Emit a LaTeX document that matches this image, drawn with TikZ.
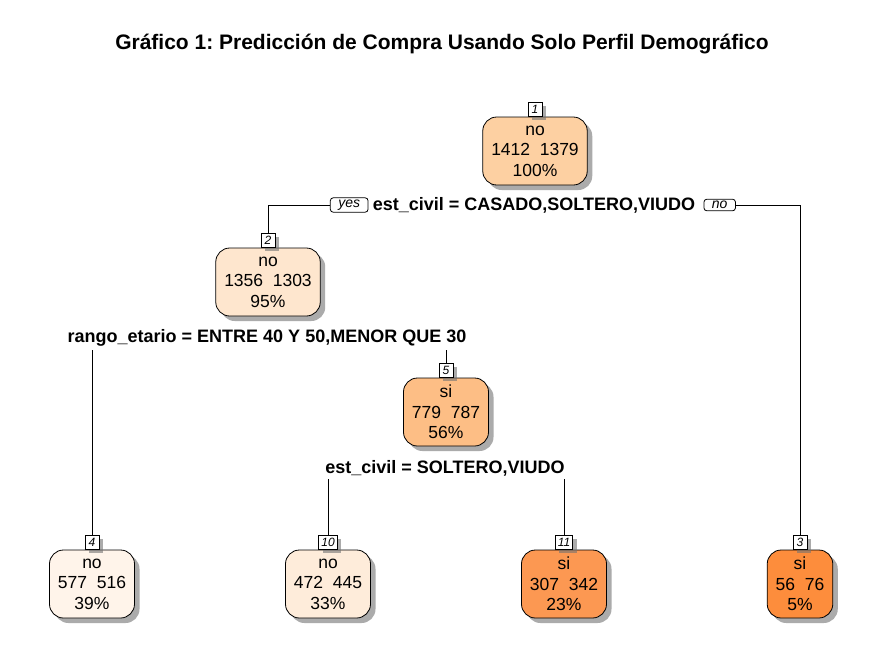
\documentclass[tikz,border=0pt]{standalone}
\usepackage{fontspec}
\setmainfont{Liberation Sans}
\usetikzlibrary{positioning, shadows}
\frenchspacing

\definecolor{fillroot}{RGB}{253,208,162}
\definecolor{filltwo}{RGB}{254,230,206}
\definecolor{fillfive}{RGB}{253,190,133}
\definecolor{fillfour}{RGB}{255,244,234}
\definecolor{fillten}{RGB}{254,236,218}
\definecolor{filleleven}{RGB}{252,152,82}
\definecolor{fillthree}{RGB}{253,141,60}

\begin{document}
\begin{tikzpicture}[x=1pt, y=-1pt, line width=0.8pt,
  treenode/.style={draw, rounded corners=14pt, minimum height=68pt, align=center,
    inner xsep=8.5pt, font=\fontsize{17.5}{20.5}\selectfont,
    drop shadow={shadow xshift=5pt, shadow yshift=-5pt, fill=black!55, opacity=0.6}},
  idbox/.style={draw, fill=white, anchor=south, inner xsep=2.5pt, inner ysep=1pt,
    minimum width=14pt, minimum height=14pt, font=\fontsize{12}{12}\selectfont\itshape,
    drop shadow={shadow xshift=4pt, shadow yshift=-4pt, fill=black!55, opacity=0.6}},
  splitlbl/.style={inner sep=3pt, font=\fontsize{18}{20}\selectfont\bfseries},
  edgelbl/.style={draw, fill=white, rounded corners=3pt, inner xsep=8pt, inner ysep=2pt,
    font=\fontsize{14}{14}\selectfont\itshape}]

  \useasboundingbox[fill=white] (0,0) rectangle (883,656);

  % Title
  \node[font=\fontsize{21}{24}\selectfont\bfseries] (title) at (442,44)
    {Gráfico 1: Predicción de Compra Usando Solo Perfil Demográfico};

  % Inner nodes
  \node[treenode, fill=fillroot] (n1) at (535,151) {no\\1412\hspace{0.55em}1379\\100\%};
  \node[idbox] (id1) at (n1.north) {1};
  \node[treenode, fill=filltwo] (n2) at (268,282) {no\\1356\hspace{0.55em}1303\\95\%};
  \node[idbox] (id2) at (n2.north) {2};
  \node[treenode, fill=fillfive] (n5) at (446,412) {si\\779\hspace{0.55em}787\\56\%};
  \node[idbox] (id5) at (n5.north) {5};

  % Leaves
  \node[treenode, fill=fillfour] (n4) at (92,584) {no\\577\hspace{0.55em}516\\39\%};
  \node[idbox] (id4) at (n4.north) {4};
  \node[treenode, fill=fillten] (n10) at (328,584) {no\\472\hspace{0.55em}445\\33\%};
  \node[idbox] (id10) at (n10.north) {10};
  \node[treenode, fill=filleleven] (n11) at (564,584) {si\\307\hspace{0.55em}342\\23\%};
  \node[idbox] (id11) at (n11.north) {11};
  \node[treenode, fill=fillthree] (n3) at (800,584) {si\\56\hspace{0.55em}76\\5\%};
  \node[idbox] (id3) at (n3.north) {3};

  % Splits
  \node[splitlbl] (s1) at (534,205) {est\_civil = CASADO,SOLTERO,VIUDO};
  \node[edgelbl, left=1pt of s1] (yes) {yes};
  \node[edgelbl, right=5pt of s1] (no) {no};
  \node[splitlbl] (s2) at (267,338) {rango\_etario = ENTRE 40 Y 50,MENOR QUE 30};
  \node[splitlbl] (s5) at (445,468) {est\_civil = SOLTERO,VIUDO};

  % Branches
  \draw (yes.west) -| (id2.north);
  \draw (no.east) -| (id3.north);
  \draw (id4.north) -- (id4.north |- s2.south);
  \draw (id5.north) -- (id5.north |- s2.south);
  \draw (id10.north) -- (id10.north |- s5.south);
  \draw (id11.north) -- (id11.north |- s5.south);
\end{tikzpicture}
\end{document}
